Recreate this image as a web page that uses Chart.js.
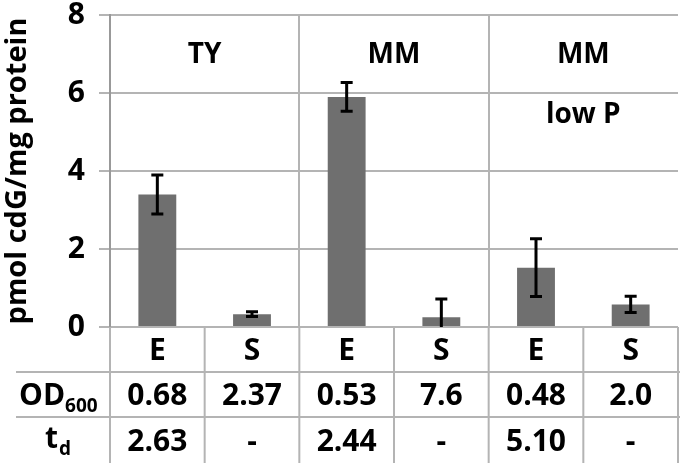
<!DOCTYPE html>
<html>
<head>
<meta charset="utf-8">
<script src="https://cdn.jsdelivr.net/npm/chart.js@4"></script>
<style>
  html, body { margin: 0; padding: 0; background: #fff; }
  #wrap { width: 680px; height: 463px; }
</style>
</head>
<body>
<div id="wrap"><canvas id="chart" width="680" height="463"></canvas></div>
<script>
// data
const labels = ['E', 'S', 'E', 'S', 'E', 'S'];
const values = [3.4, 0.33, 5.9, 0.25, 1.52, 0.58];
const errors = [0.5, 0.06, 0.37, 0.47, 0.74, 0.21];
const groupLabels = [['TY'], ['MM'], ['MM', 'low P']];
const od600 = ['0.68', '2.37', '0.53', '7.6', '0.48', '2.0'];
const td = ['2.63', '-', '2.44', '-', '5.10', '-'];
const yTicks = [0, 2, 4, 6, 8];

const FONT = '"Open Sans", sans-serif';
const GRID = '#b4b4b4';

// error bars on top of the bars
const errorBars = {
    id: 'errorBars',
    afterDatasetsDraw(chart) {
        const ctx = chart.ctx;
        const y = chart.scales.y;
        const meta = chart.getDatasetMeta(0);
        ctx.save();
        ctx.strokeStyle = '#000';
        ctx.lineWidth = 3;
        meta.data.forEach((bar, i) => {
            const hi = values[i] + errors[i];
            const lo = Math.max(0, values[i] - errors[i]);
            const yh = y.getPixelForValue(hi);
            const yl = y.getPixelForValue(lo);
            ctx.beginPath();
            ctx.moveTo(bar.x, yh); ctx.lineTo(bar.x, yl);
            ctx.moveTo(bar.x - 6, yh); ctx.lineTo(bar.x + 6, yh);
            if (values[i] - errors[i] > 0) {
                ctx.moveTo(bar.x - 6, yl); ctx.lineTo(bar.x + 6, yl);
            }
            ctx.stroke();
        });
        ctx.restore();
    }
};

// group captions and the table under the axis
const tablePlugin = {
    id: 'tablePlugin',
    afterDraw(chart) {
        const ctx = chart.ctx;
        const x = chart.scales.x;
        const a = chart.chartArea;
        const step = (a.right - a.left) / labels.length;
        ctx.save();

        // group captions
        ctx.fillStyle = '#000';
        ctx.textAlign = 'center';
        ctx.textBaseline = 'middle';
        ctx.font = 'bold 28px ' + FONT;
        groupLabels.forEach((g, gi) => {
            const cx = (x.getPixelForValue(gi * 2) + x.getPixelForValue(gi * 2 + 1)) / 2;
            g.forEach((t, li) => ctx.fillText(t, cx, a.top + 40 + li * 60));
        });

        // table grid
        const rowH = [45, 45, 46];
        const r1 = a.bottom + rowH[0];
        const r2 = r1 + rowH[1];
        const bottom = chart.height;
        ctx.strokeStyle = GRID;
        ctx.lineWidth = 2;
        ctx.beginPath();
        ctx.moveTo(16, r1); ctx.lineTo(chart.width, r1);
        ctx.moveTo(16, r2); ctx.lineTo(chart.width, r2);
        for (let i = 0; i <= labels.length; i++) {
            const vx = a.left + i * step;
            ctx.moveTo(vx, a.bottom); ctx.lineTo(vx, bottom);
        }
        ctx.stroke();

        // cells
        ctx.fillStyle = '#000';
        ctx.font = 'bold 30px ' + FONT;
        labels.forEach((l, i) => {
            const cx = x.getPixelForValue(i);
            ctx.fillText(l, cx, a.bottom + 24);
            ctx.fillText(od600[i], cx, r1 + 24);
            ctx.fillText(td[i], cx, r2 + 25);
        });

        // row headers with subscripts
        ctx.textAlign = 'left';
        ctx.font = 'bold 30px ' + FONT;
        ctx.fillText('OD', 19, r1 + 24);
        const odw = ctx.measureText('OD').width;
        ctx.font = 'bold 19px ' + FONT;
        ctx.fillText('600', 19 + odw, r1 + 35);
        ctx.font = 'bold 30px ' + FONT;
        ctx.fillText('t', 45, r2 + 22);
        const tw = ctx.measureText('t').width;
        ctx.font = 'bold 19px ' + FONT;
        ctx.fillText('d', 45 + tw + 1, r2 + 33);
        ctx.restore();
    }
};

new Chart(document.getElementById('chart'), {
    type: 'bar',
    data: {
        labels: labels,
        datasets: [{
            data: values,
            backgroundColor: '#6f6f6f',
            barPercentage: 0.4,
            categoryPercentage: 1.0
        }]
    },
    options: {
        responsive: false,
        animation: false,
        layout: { padding: { top: 15, right: 2, left: 0, bottom: 0 } },
        plugins: { legend: { display: false }, tooltip: { enabled: false } },
        scales: {
            x: {
                offset: true,
                ticks: { display: false },
                grid: {
                    offset: true,
                    color: c => (c.index % 2 === 0 && c.index > 0) ? GRID : 'rgba(0,0,0,0)',
                    lineWidth: 2,
                    drawTicks: false
                },
                border: { display: false },
                afterFit: s => { s.height = 136; }
            },
            y: {
                min: 0,
                max: 8,
                afterBuildTicks: s => { s.ticks = yTicks.map(v => ({ value: v })); },
                ticks: {
                    color: '#000',
                    font: { family: FONT, size: 30, weight: 'bold' },
                    padding: 14
                },
                grid: { color: GRID, lineWidth: 2, tickLength: 11 },
                border: { color: '#999', width: 2 },
                title: {
                    display: true,
                    text: 'pmol cdG/mg protein',
                    color: '#000',
                    font: { family: FONT, size: 29, weight: 'bold' },
                    padding: { top: 0, bottom: 0 }
                },
                afterFit: s => { s.width = 110; s.paddingTop = 0; s.paddingBottom = 0; }
            }
        }
    },
    plugins: [errorBars, tablePlugin]
});
</script>
</body>
</html>
